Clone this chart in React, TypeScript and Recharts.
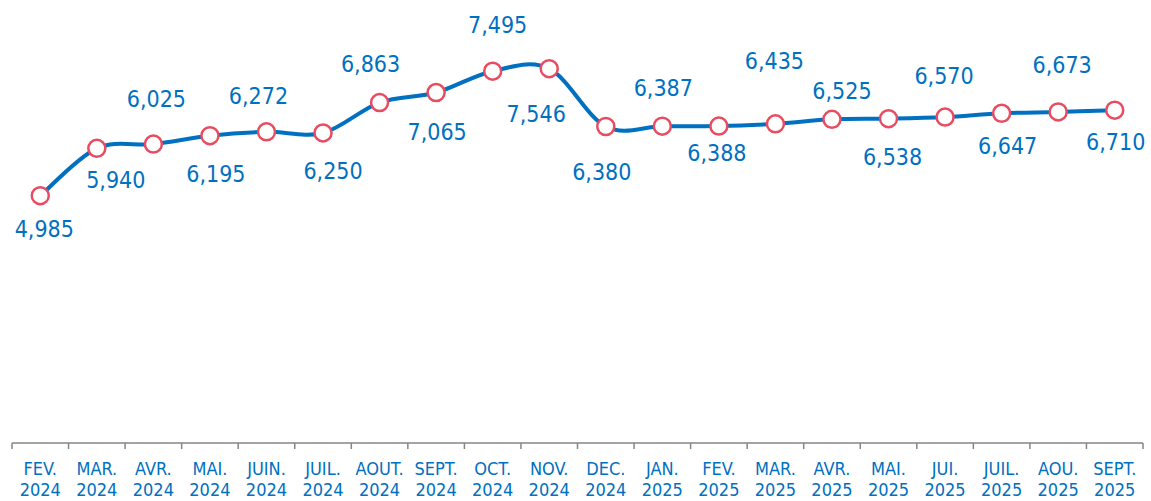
import React from "react";
import { LineChart, Line, XAxis, YAxis } from "recharts";

const months = ["FEV.", "MAR.", "AVR.", "MAI.", "JUIN.", "JUIL.", "AOUT.", "SEPT.", "OCT.", "NOV.", "DEC.", "JAN.", "FEV.", "MAR.", "AVR.", "MAI.", "JUI.", "JUIL.", "AOU.", "SEPT."];
const years = ["2024", "2024", "2024", "2024", "2024", "2024", "2024", "2024", "2024", "2024", "2024", "2025", "2025", "2025", "2025", "2025", "2025", "2025", "2025", "2025"];
const values = [4985, 5940, 6025, 6195, 6272, 6250, 6863, 7065, 7495, 7546, 6380, 6387, 6388, 6435, 6525, 6538, 6570, 6647, 6673, 6710];

// where each value label sits relative to its point (hand-placed in the original)
const labelDx = [4, 19, 3, 6, -8, 10, -9, 1, 5, -13, -4, 1, -2, -1, 10, 4, -1, 6, 4, 1];
const labelDy = [33, 32, -45, 38, -36, 38, -39, 39, -46, 45, 45, -38, 27, -63, -28, 38, -41, 33, -47, 32];

const data = months.map((m, i) => ({ name: `${m} ${years[i]}`, month: m, year: years[i], value: values[i] }));

const W = 1151;
const H = 501;
const BLUE = "#0070C0";
const FONT = "'DejaVu Sans Condensed', 'DejaVu Sans', sans-serif";
const HALF = (W - 12 - 8) / values.length / 2;

// Excel-style smoothed line (Catmull-Rom as cubic beziers)
function excelCurve(context: any) {
  let pts: number[][] = [];
  return {
    areaStart() {},
    areaEnd() {},
    lineStart() {
      pts = [];
    },
    point(x: number, y: number) {
      pts.push([+x, +y]);
    },
    lineEnd() {
      if (!pts.length) return;
      context.moveTo(pts[0][0], pts[0][1]);
      for (let i = 0; i < pts.length - 1; i++) {
        const p0 = pts[i - 1] || pts[i];
        const p1 = pts[i];
        const p2 = pts[i + 1];
        const p3 = pts[i + 2] || p2;
        context.bezierCurveTo(
          p1[0] + (p2[0] - p0[0]) / 6,
          p1[1] + (p2[1] - p0[1]) / 6,
          p2[0] - (p3[0] - p1[0]) / 6,
          p2[1] - (p3[1] - p1[1]) / 6,
          p2[0],
          p2[1]
        );
      }
    },
  };
}

function MonthTick(props: any) {
  const { x, y, index } = props;
  const last = index === values.length - 1;
  return (
    <g>
      <line x1={x - HALF} x2={x - HALF} y1={y} y2={y + 6} stroke="#868686" strokeWidth={1.5} />
      {last && <line x1={x + HALF} x2={x + HALF} y1={y} y2={y + 6} stroke="#868686" strokeWidth={1.5} />}
      <text x={x} y={y + 32} textAnchor="middle" fill={BLUE} fontSize={18} fontFamily={FONT}>
        {months[index]}
      </text>
      <text x={x} y={y + 53} textAnchor="middle" fill={BLUE} fontSize={18} fontFamily={FONT}>
        {years[index]}
      </text>
    </g>
  );
}

function ValueLabel(props: any) {
  const { x, y, index, value } = props;
  return (
    <text
      x={x + labelDx[index]}
      y={y + labelDy[index]}
      textAnchor="middle"
      dominantBaseline="central"
      fill={BLUE}
      fontSize={23}
      fontFamily={FONT}
    >
      {Number(value).toLocaleString("en-US")}
    </text>
  );
}

export default function App() {
  return (
    <div style={{ position: "absolute", left: 0, top: 0, width: W, height: H, background: "#fff" }}>
      <LineChart width={W} height={H} data={data} margin={{ top: 0, right: 8, bottom: 0, left: 12 }}>
        <XAxis
          dataKey="name"
          height={58}
          interval={0}
          padding={{ left: HALF, right: HALF }}
          axisLine={{ stroke: "#868686", strokeWidth: 1.5 }}
          tickLine={false}
          tickSize={0}
          tickMargin={0}
          tick={<MonthTick />}
        />
        <YAxis hide domain={[0, 8930]} />
        <Line
          dataKey="value"
          type={excelCurve as any}
          stroke={BLUE}
          strokeWidth={4}
          dot={{ r: 8.5, fill: "#fff", stroke: "#E94B60", strokeWidth: 2.5 }}
          activeDot={false}
          label={<ValueLabel />}
          isAnimationActive={false}
        />
      </LineChart>
    </div>
  );
}
